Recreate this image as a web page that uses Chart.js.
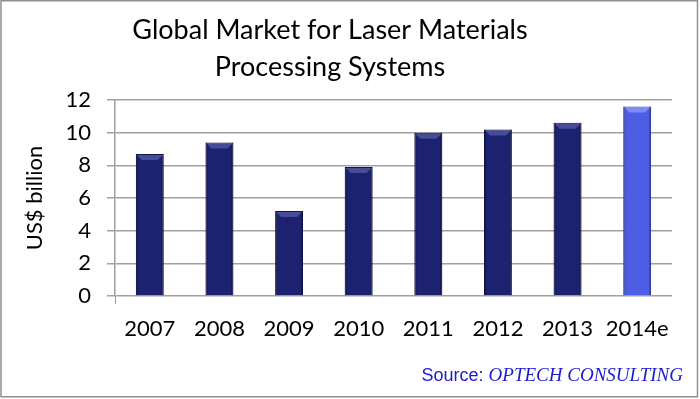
<!DOCTYPE html>
<html>
<head>
<meta charset="utf-8">
<script src="https://cdn.jsdelivr.net/npm/chart.js@4.4.1/dist/chart.umd.min.js"></script>
<style>
  html, body { margin: 0; padding: 0; background: #fff; }
  #wrap { width: 700px; height: 399px; }
</style>
</head>
<body>
<div id="wrap"><canvas id="myChart" width="700" height="399"></canvas></div>
<script>
const years = ['2007', '2008', '2009', '2010', '2011', '2012', '2013', '2014e'];
const marketValues = [8.7, 9.4, 5.2, 7.9, 10.0, 10.2, 10.6, 11.6];
const titleLines = ['Global Market for Laser Materials', 'Processing Systems'];
const yTitle = 'US$ billion';

const navy = '#1c2170';
const estimateBlue = '#4d5ee4';

// frame, title, source and the little bevel on top of each bar
const decorations = {
    id: 'decorations',
    beforeDraw(chart) {
        const c = chart.ctx;
        c.save();
        c.fillStyle = '#fff';
        c.fillRect(0, 0, chart.width, chart.height);
        c.restore();
    },
    afterDatasetsDraw(chart) {
        const c = chart.ctx;
        const meta = chart.getDatasetMeta(0);
        c.save();
        meta.data.forEach(function (bar, i) {
            const half = bar.width / 2;
            const left = bar.x - half, right = bar.x + half;
            const top = bar.y;
            // darker sides
            c.fillStyle = 'rgba(0,0,20,0.25)';
            c.fillRect(left, top, 2, bar.base - top);
            c.fillRect(right - 2, top, 2, bar.base - top);
            // lighter bevel on top
            c.fillStyle = i === meta.data.length - 1 ? 'rgba(160,170,250,0.6)' : 'rgba(100,105,180,0.6)';
            c.beginPath();
            c.moveTo(left + 1, top + 1);
            c.lineTo(right - 1, top + 1);
            c.lineTo(right - 6, top + 6);
            c.lineTo(left + 6, top + 6);
            c.closePath();
            c.fill();
        });
        c.restore();
    },
    afterDraw(chart) {
        const c = chart.ctx;
        c.save();
        c.strokeStyle = '#8f8f8f';
        c.lineWidth = 1.5;
        c.strokeRect(1, 0.75, 696.5, 396);

        c.fillStyle = '#000';
        c.font = '27px Lato';
        c.textAlign = 'center';
        c.textBaseline = 'alphabetic';
        c.fillText(titleLines[0], 330, 39);
        c.fillText(titleLines[1], 330, 76);

        c.textAlign = 'left';
        c.fillStyle = '#1c1ccc';
        c.font = 'italic 19px "Liberation Serif"';
        const brand = 'OPTECH CONSULTING';
        const brandW = c.measureText(brand).width;
        c.font = '18px "Liberation Sans"';
        const label = 'Source: ';
        const labelW = c.measureText(label).width;
        const x0 = 683 - brandW - labelW;
        c.fillText(label, x0, 381);
        c.font = 'italic 19px "Liberation Serif"';
        c.fillText(brand, x0 + labelW, 381);
        c.restore();
    }
};

const ctx = document.getElementById('myChart');

const myChart = new Chart(ctx, {
    type: 'bar',
    data: {
        labels: years,
        datasets: [{
            label: yTitle,
            data: marketValues,
            backgroundColor: marketValues.map(function (v, i) {
                return i === marketValues.length - 1 ? estimateBlue : navy;
            }),
            borderColor: marketValues.map(function (v, i) {
                return i === marketValues.length - 1 ? '#3a48c0' : '#12154f';
            }),
            borderWidth: 1,
            barPercentage: 0.4,
            categoryPercentage: 1.0
        }]
    },
    options: {
        responsive: false,
        animation: false,
        layout: {
            padding: { top: 100, right: 28, left: 0, bottom: 0 }
        },
        plugins: {
            legend: { display: false },
            tooltip: { enabled: false },
            title: { display: false }
        },
        scales: {
            x: {
                grid: {
                    offset: true,
                    drawOnChartArea: false,
                    tickLength: 8,
                    color: function (context) {
                        return context.index === 0 ? '#999' : 'rgba(0,0,0,0)';
                    }
                },
                border: { display: false },
                ticks: {
                    color: '#000',
                    font: { family: 'Lato', size: 22 },
                    padding: 12,
                    maxRotation: 0
                },
                afterFit: function (scale) { scale.height = 103; }
            },
            y: {
                min: 0,
                max: 12,
                ticks: {
                    stepSize: 2,
                    color: '#000',
                    font: { family: 'Lato', size: 22 },
                    padding: 16
                },
                grid: {
                    color: '#a0a0a0',
                    lineWidth: 1.5,
                    tickLength: 8
                },
                border: { display: true, color: '#a0a0a0', width: 1.5 },
                title: {
                    display: true,
                    text: yTitle,
                    color: '#000',
                    font: { family: 'Lato', size: 22 },
                    padding: { top: 22, bottom: 0 }
                },
                afterFit: function (scale) { scale.width = 115; }
            }
        }
    },
    plugins: [decorations]
});
</script>
</body>
</html>
